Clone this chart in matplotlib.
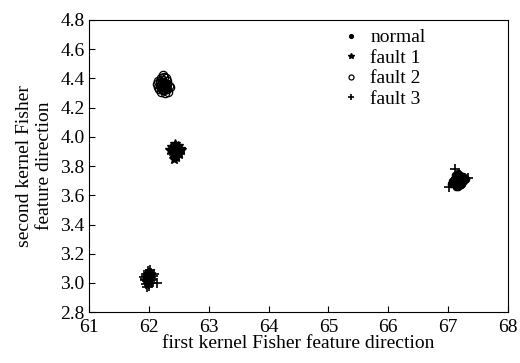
import numpy as np
import matplotlib.pyplot as plt

plt.rcParams['font.family'] = ['Liberation Serif', 'DejaVu Serif']

# normal class (dots)
normal_x = [67.17, 67.10, 67.22, 67.15, 67.20, 67.08, 67.25, 67.13, 67.18, 67.12,
            67.24, 67.16, 67.19, 67.11, 67.27, 67.14, 67.21, 67.09, 67.23, 67.17,
            67.15, 67.20, 67.12, 67.18, 67.06, 67.28, 67.16, 67.22, 67.13, 67.19,
            67.30, 67.05, 67.17, 67.14, 67.21]
normal_y = [3.70, 3.71, 3.69, 3.73, 3.72, 3.69, 3.71, 3.67, 3.68, 3.74,
            3.73, 3.66, 3.70, 3.72, 3.70, 3.70, 3.67, 3.71, 3.68, 3.75,
            3.68, 3.74, 3.69, 3.72, 3.70, 3.72, 3.73, 3.71, 3.66, 3.69,
            3.71, 3.68, 3.72, 3.71, 3.70]

# fault 1 (stars)
fault1_x = [62.45, 62.40, 62.50, 62.43, 62.48, 62.38, 62.52, 62.46, 62.42, 62.47,
            62.44, 62.49, 62.41, 62.53, 62.39, 62.45, 62.47, 62.43, 62.50, 62.44,
            62.36, 62.46, 62.42, 62.48, 62.45]
fault1_y = [3.90, 3.92, 3.89, 3.94, 3.91, 3.90, 3.92, 3.87, 3.88, 3.93,
            3.95, 3.90, 3.89, 3.91, 3.93, 3.86, 3.92, 3.91, 3.88, 3.89,
            3.91, 3.90, 3.85, 3.94, 3.92]

# fault 2 (circles)
fault2_x = [62.25, 62.18, 62.30, 62.22, 62.28, 62.15, 62.33, 62.20, 62.26, 62.24,
            62.19, 62.31, 62.27, 62.23, 62.17, 62.29, 62.21, 62.35, 62.14, 62.26,
            62.32, 62.22, 62.24, 62.28, 62.20, 62.16, 62.30, 62.25, 62.23, 62.27,
            62.21, 62.29, 62.24, 62.26, 62.19, 62.31, 62.23, 62.27]
fault2_y = [4.35, 4.37, 4.33, 4.39, 4.36, 4.34, 4.35, 4.31, 4.41, 4.32,
            4.38, 4.38, 4.30, 4.36, 4.33, 4.40, 4.35, 4.34, 4.36, 4.37,
            4.31, 4.33, 4.34, 4.35, 4.40, 4.38, 4.36, 4.32, 4.42, 4.34,
            4.36, 4.34, 4.37, 4.33, 4.35, 4.36, 4.34, 4.35]

# fault 3 (plus)
fault3_x = [62.00, 61.96, 62.04, 61.98, 62.02, 61.94, 62.06, 62.00, 61.97, 62.03,
            61.99, 62.01, 61.95, 62.05, 61.98, 62.02, 62.00, 61.93, 62.07, 62.01,
            61.99, 62.03, 61.97, 62.13, 61.92, 62.04, 62.00, 61.96, 62.02, 62.09,
            67.12, 67.02, 67.33]
fault3_y = [3.03, 3.05, 3.02, 3.00, 3.04, 3.03, 3.03, 3.07, 3.01, 3.06,
            3.08, 2.99, 3.06, 3.00, 3.03, 3.01, 3.04, 3.02, 3.05, 2.98,
            3.06, 3.04, 2.97, 3.00, 3.04, 3.07, 3.02, 2.99, 3.09, 3.06,
            3.78, 3.66, 3.72]

xticks = [61, 62, 63, 64, 65, 66, 67, 68]
yticks = [2.8, 3.0, 3.2, 3.4, 3.6, 3.8, 4.0, 4.2, 4.4, 4.6, 4.8]

fig = plt.figure(figsize=(5.2, 3.63), dpi=100)
ax = fig.add_axes([0.171, 0.140, 0.806, 0.805])

ax.plot(normal_x, normal_y, '.', color='k', markersize=9, label='normal')
ax.plot(fault1_x, fault1_y, '*', color='k', markersize=7, label='fault 1')
ax.plot(fault2_x, fault2_y, 'o', mfc='none', mec='k', markersize=6, mew=0.9, label='fault 2')
ax.plot(fault3_x, fault3_y, '+', color='k', markersize=7, mew=1.2, label='fault 3')

ax.set_xlim(61, 68)
ax.set_ylim(2.8, 4.8)
ax.set_xticks(xticks)
ax.set_yticks(yticks)
ax.set_yticklabels(['%.1f' % v for v in yticks])
ax.tick_params(direction='in', labelsize=14, length=4)
ax.tick_params(axis='x', pad=5)
ax.tick_params(axis='y', pad=3)
ax.set_xlabel('first kernel Fisher feature direction', fontsize=14, labelpad=-1)
ax.set_ylabel('second kernel Fisher\nfeature direction', fontsize=14, labelpad=5,
              linespacing=1.25)

leg = ax.legend(loc='upper left', bbox_to_anchor=(0.56, 1.03), frameon=False, fontsize=14,
                handlelength=1.0, handletextpad=0.5, labelspacing=0.15, markerscale=0.6)

fig.savefig('out.png', dpi=100)
